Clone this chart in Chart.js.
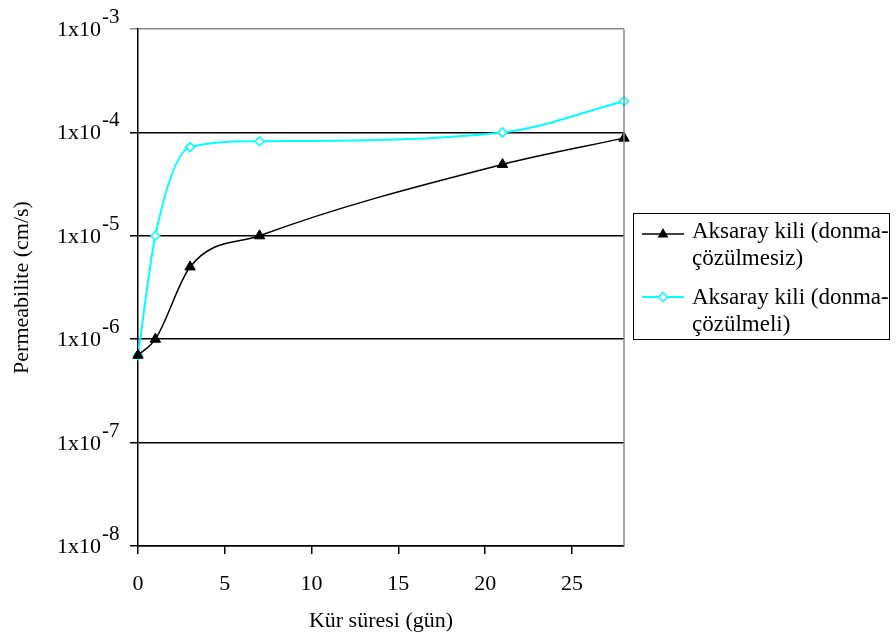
<!DOCTYPE html>
<html><head><meta charset="utf-8">
<script src="https://cdn.jsdelivr.net/npm/chart.js@4"></script>
<style>html,body{margin:0;padding:0;background:#fff;} canvas{display:block;}</style>
</head><body>
<canvas id="c" width="896" height="641"></canvas>
<script>
const days = [0, 1, 3, 7, 21, 28];
const donmaCozulmesiz = [7e-7, 1e-6, 5e-6, 1e-5, 4.9e-5, 8.8e-5];
const donmaCozulmeli = [7e-7, 1e-5, 7.2e-5, 8.2e-5, 1e-4, 2e-4];
const seriesLabels = [['Aksaray kili (donma-', 'çözülmesiz)'], ['Aksaray kili (donma-', 'çözülmeli)']];
const xTicks = [0, 5, 10, 15, 20, 25];
const yTickExponents = [-8, -7, -6, -5, -4, -3];
const yTickBase = '1x10';
const xTitle = 'Kür süresi (gün)';
const yTitle = 'Permeabilite (cm/s)';

const FONT = '"Liberation Serif", "Times New Roman", serif';
const CYAN = '#00FFFF';

function drawMarker(ctx, kind, x, y) {
  ctx.save();
  if (kind === 'triangle') {
    const r = 6;
    ctx.fillStyle = '#000';
    ctx.beginPath();
    ctx.moveTo(x, y - r);
    ctx.lineTo(x + r * 0.9, y + r * 0.6);
    ctx.lineTo(x - r * 0.9, y + r * 0.6);
    ctx.closePath();
    ctx.fill();
  } else {
    const r = 4.5;
    ctx.fillStyle = '#fff';
    ctx.strokeStyle = CYAN;
    ctx.lineWidth = 1.5;
    ctx.beginPath();
    ctx.moveTo(x, y - r);
    ctx.lineTo(x + r, y);
    ctx.lineTo(x, y + r);
    ctx.lineTo(x - r, y);
    ctx.closePath();
    ctx.fill();
    ctx.stroke();
  }
  ctx.restore();
}

const decorPlugin = {
  id: 'decor',
  afterDraw(chart) {
    const ctx = chart.ctx;
    const ys = chart.scales.y;
    const area = chart.chartArea;
    ctx.save();
    ctx.strokeStyle = '#8a8a8a';
    ctx.lineWidth = 1.5;
    ctx.beginPath();
    ctx.moveTo(area.right, area.top);
    ctx.lineTo(area.right, area.bottom);
    ctx.stroke();
    ctx.fillStyle = '#000';
    yTickExponents.forEach(e => {
      const py = ys.getPixelForValue(Math.pow(10, e));
      ctx.font = '22px ' + FONT;
      ctx.textAlign = 'right';
      ctx.textBaseline = 'alphabetic';
      ctx.fillText(yTickBase, 101, py + 7);
      ctx.font = '21px ' + FONT;
      ctx.textAlign = 'left';
      ctx.fillText('-' + Math.abs(e), 102, py - 6);
    });
    const bx = 633.5, by = 213.5, bw = 256, bh = 126;
    ctx.strokeStyle = '#000';
    ctx.lineWidth = 1;
    ctx.strokeRect(bx, by, bw, bh);
    const items = [
      {color: '#000', width: 1.5, marker: 'triangle', lineY: 234, base: [238, 265]},
      {color: CYAN, width: 2, marker: 'diamond', lineY: 297, base: [304, 331]}
    ];
    items.forEach((it, i) => {
      ctx.strokeStyle = it.color;
      ctx.lineWidth = it.width;
      ctx.beginPath();
      ctx.moveTo(642, it.lineY);
      ctx.lineTo(684, it.lineY);
      ctx.stroke();
      drawMarker(ctx, it.marker, 663, it.lineY);
      ctx.fillStyle = '#000';
      ctx.font = '23px ' + FONT;
      ctx.textAlign = 'left';
      ctx.textBaseline = 'alphabetic';
      seriesLabels[i].forEach((t, j) => ctx.fillText(t, 692, it.base[j]));
    });
    ctx.restore();
  }
};

new Chart(document.getElementById('c'), {
  type: 'line',
  data: {
    datasets: [
      {
        label: seriesLabels[0].join(''),
        data: days.map((d, i) => ({x: d, y: donmaCozulmesiz[i]})),
        borderColor: '#000',
        backgroundColor: '#000',
        borderWidth: 1.5,
        pointStyle: 'triangle',
        pointRadius: 6,
        pointBorderWidth: 1,
        cubicInterpolationMode: 'monotone',
        clip: false
      },
      {
        label: seriesLabels[1].join(''),
        data: days.map((d, i) => ({x: d, y: donmaCozulmeli[i]})),
        borderColor: CYAN,
        backgroundColor: '#fff',
        borderWidth: 2,
        pointStyle: 'rectRot',
        pointRadius: 4.5,
        pointBorderWidth: 1.5,
        pointBorderColor: CYAN,
        cubicInterpolationMode: 'monotone',
        clip: false
      }
    ]
  },
  options: {
    responsive: false,
    animation: false,
    layout: {padding: {left: 0, top: 29, right: 272, bottom: 0}},
    plugins: {legend: {display: false}, tooltip: {enabled: false}},
    scales: {
      x: {
        type: 'linear',
        min: 0, max: 28,
        afterBuildTicks: s => { s.ticks = xTicks.map(v => ({value: v})); },
        afterFit: s => { s.height = 95; },
        grid: {display: true, drawOnChartArea: false, drawTicks: true, tickLength: 8, color: '#000', lineWidth: 1.5},
        border: {display: true, color: '#000', width: 1.5},
        ticks: {color: '#000', font: {family: FONT, size: 22}, padding: 17, maxRotation: 0},
        title: {display: true, text: xTitle, color: '#000', font: {family: FONT, size: 22}, padding: {top: 7, bottom: 7}}
      },
      y: {
        type: 'logarithmic',
        min: 1e-8, max: 1e-3,
        afterBuildTicks: s => { s.ticks = yTickExponents.map(e => ({value: Math.pow(10, e)})); },
        afterFit: s => { s.width = 138; },
        grid: {
          display: true, drawOnChartArea: true, drawTicks: true, tickLength: 8,
          color: ctx => (ctx.tick && ctx.tick.value >= 1e-3 ? '#8a8a8a' : '#000'),
          lineWidth: 1.5
        },
        border: {display: true, color: '#000', width: 1.5},
        ticks: {display: false},
        title: {display: true, text: yTitle, color: '#000', font: {family: FONT, size: 22}, padding: {top: 9, bottom: 9}}
      }
    }
  },
  plugins: [decorPlugin]
});
</script>
</body></html>
